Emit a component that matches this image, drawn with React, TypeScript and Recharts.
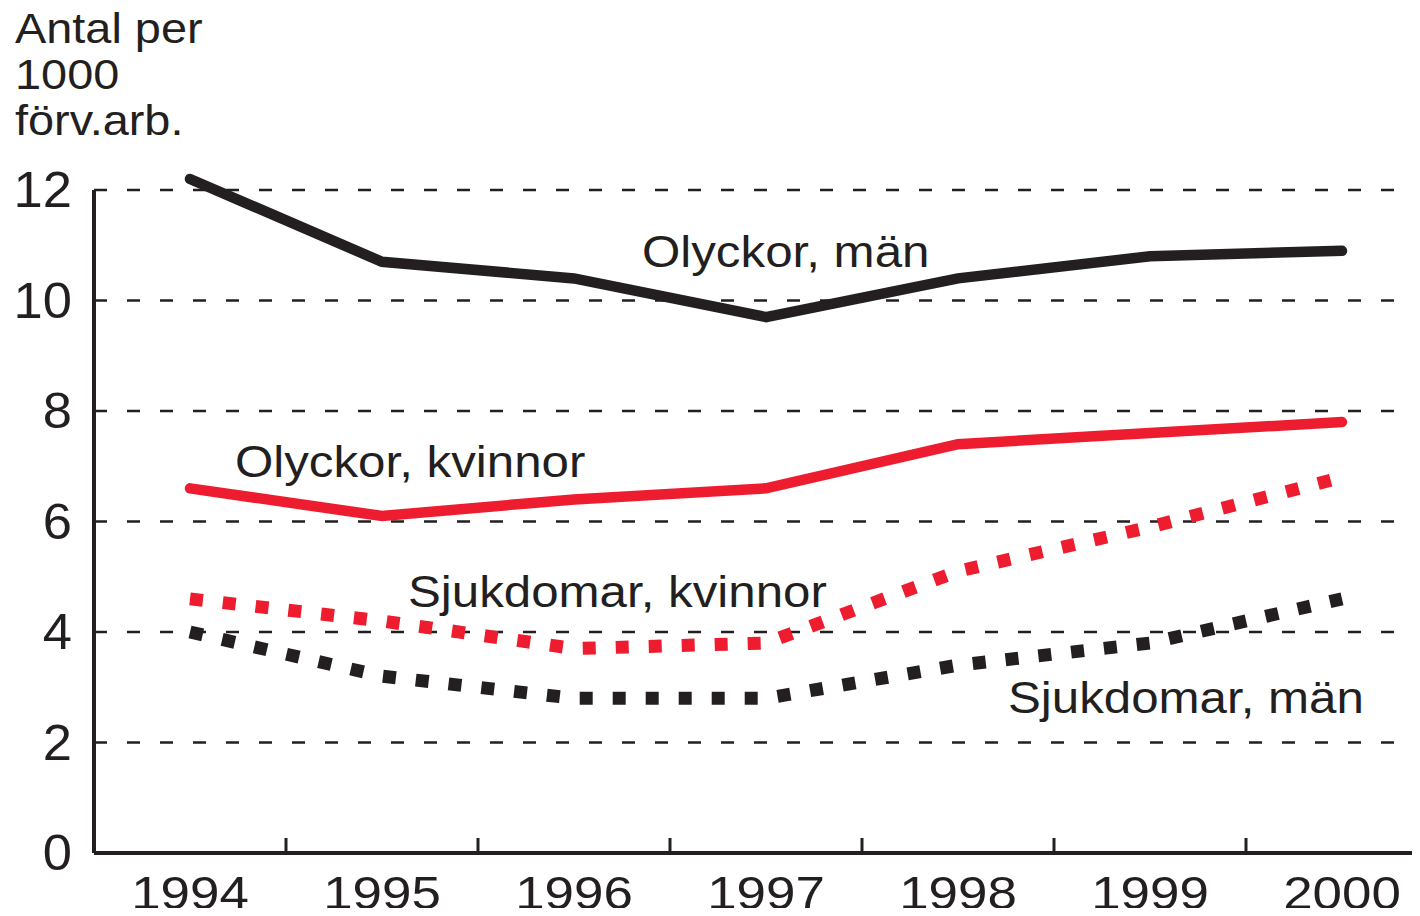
import { LineChart, Line, XAxis, YAxis, CartesianGrid, ReferenceDot } from "recharts";

const YEARS = [1994, 1995, 1996, 1997, 1998, 1999, 2000];
const OLYCKOR_MAN = [12.2, 10.7, 10.4, 9.7, 10.4, 10.8, 10.9];
const OLYCKOR_KVINNOR = [6.6, 6.1, 6.4, 6.6, 7.4, 7.6, 7.8];
const SJUKDOMAR_KVINNOR = [4.6, 4.2, 3.7, 3.8, 5.1, 5.9, 6.8];
const SJUKDOMAR_MAN = [4.0, 3.2, 2.8, 2.8, 3.4, 3.8, 4.6];
const Y_TICKS = [0, 2, 4, 6, 8, 10, 12];
const TITLE = ["Antal per", "1000", "förv.arb."];

const INK = "#231f20";
const RED = "#ed1c2e";
const FONT = '"Liberation Sans", Arial, Helvetica, sans-serif';

const data = YEARS.map((year, i) => ({
  year,
  om: OLYCKOR_MAN[i],
  ok: OLYCKOR_KVINNOR[i],
  sk: SJUKDOMAR_KVINNOR[i],
  sm: SJUKDOMAR_MAN[i],
}));

// labels on the years, small marks half way between them
const xTicks = YEARS.flatMap((y, i) => (i < YEARS.length - 1 ? [y, y + 0.5] : [y]));

const renderXTick = (p: any) => {
  const { x, y, payload } = p;
  if (Number.isInteger(payload.value)) {
    return (
      <text transform={`translate(${x},${y + 56}) scale(1.15,1)`} textAnchor="middle" fontSize={46} fill={INK} fontFamily={FONT}>
        {payload.value}
      </text>
    );
  }
  return <line x1={x} x2={x} y1={y} y2={y - 15} stroke={INK} strokeWidth={3} />;
};

const renderYTick = (p: any) => {
  const { x, y, payload } = p;
  return (
    <text transform={`translate(${x - 22},${y + 17}) scale(1.05,1)`} textAnchor="end" fontSize={50} fill={INK} fontFamily={FONT}>
      {payload.value}
    </text>
  );
};

const seriesLabel = (text: string) => (p: any) => {
  const vb = p.viewBox || {};
  return (
    <text transform={`translate(${vb.x},${vb.y}) scale(1.12,1)`} fontSize={44} fill={INK} fontFamily={FONT}>
      {text}
    </text>
  );
};

export default function App() {
  return (
    <div style={{ position: "relative", width: 1420, height: 916, margin: -8, overflow: "hidden", fontFamily: FONT, background: "#fff" }}>
      {/* the 1994 value of "Olyckor, män" sits just above 12: keep the axis at 12 and let the line poke out */}
      <style>{`.recharts-surface [clip-path] { clip-path: none !important; }`}</style>
      <div
        style={{
          position: "absolute",
          left: 15,
          top: 5,
          fontSize: 43,
          lineHeight: "46px",
          color: INK,
          transform: "scaleX(1.09)",
          transformOrigin: "left top",
          zIndex: 1,
        }}
      >
        {TITLE.map((l) => (
          <div key={l}>{l}</div>
        ))}
      </div>
      <LineChart
        width={1440}
        height={916}
        data={data}
        margin={{ top: 190, right: 2, left: 0, bottom: 0 }}
        style={{ position: "absolute", left: 0, top: 0 }}
      >
        <CartesianGrid vertical={false} stroke={INK} strokeWidth={2.5} strokeDasharray="13 20" />
        <XAxis
          type="number"
          dataKey="year"
          domain={[1993.5, 2000.5]}
          ticks={xTicks}
          interval={0}
          tickLine={false}
          tickSize={0}
          tickMargin={0}
          tick={renderXTick}
          axisLine={{ stroke: INK, strokeWidth: 4 }}
          height={63}
        />
        <YAxis
          type="number"
          domain={[0, 12]}
          allowDataOverflow
          ticks={Y_TICKS}
          interval={0}
          tickLine={false}
          tickSize={0}
          tickMargin={0}
          tick={renderYTick}
          axisLine={{ stroke: INK, strokeWidth: 4 }}
          width={94}
        />
        <Line type="linear" dataKey="om" stroke={INK} strokeWidth={10.5} strokeLinecap="round" dot={false} isAnimationActive={false} />
        <Line type="linear" dataKey="ok" stroke={RED} strokeWidth={10.5} strokeLinecap="round" dot={false} isAnimationActive={false} />
        <Line type="linear" dataKey="sk" stroke={RED} strokeWidth={13} strokeDasharray="13 20" dot={false} isAnimationActive={false} />
        <Line type="linear" dataKey="sm" stroke={INK} strokeWidth={13} strokeDasharray="13 20" dot={false} isAnimationActive={false} />
        <ReferenceDot x={1996.354} y={10.61} r={0} fill="none" stroke="none" label={seriesLabel("Olyckor, män")} />
        <ReferenceDot x={1994.234} y={6.81} r={0} fill="none" stroke="none" label={seriesLabel("Olyckor, kvinnor")} />
        <ReferenceDot x={1995.135} y={4.45} r={0} fill="none" stroke="none" label={seriesLabel("Sjukdomar, kvinnor")} />
        <ReferenceDot x={1998.26} y={2.53} r={0} fill="none" stroke="none" label={seriesLabel("Sjukdomar, män")} />
      </LineChart>
    </div>
  );
}
